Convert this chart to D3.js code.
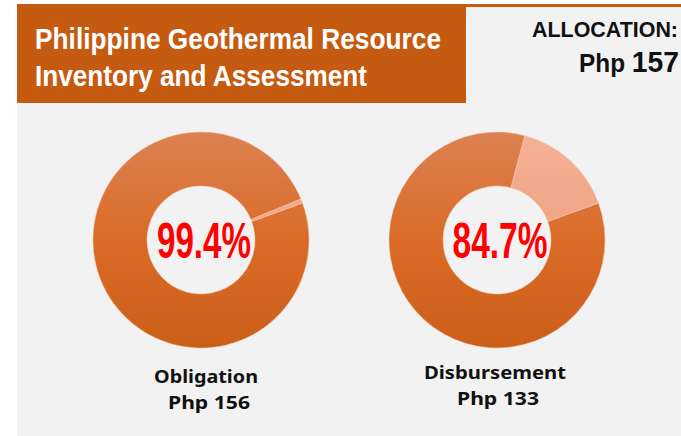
<!DOCTYPE html>
<html>
<head>
<meta charset="utf-8">
<script src="https://cdn.jsdelivr.net/npm/d3@7"></script>
<style>
  body { margin: 0; background: #ffffff; }
  svg { display: block; }
</style>
</head>
<body>
<div id="chart"></div>
<script>
// values
const allocation = 157;
const categories = ["Obligation", "Disbursement"];
const amounts = [156, 133];
const percentLabels = ["99.4%", "84.7%"];
const titleLines = ["Philippine Geothermal Resource", "Inventory and Assessment"];

const svgWidth = 681, svgHeight = 436;
const narrow = "'Liberation Sans', Arial, sans-serif";

const svg = d3.select("#chart")
  .append("svg")
  .attr("width", svgWidth)
  .attr("height", svgHeight);

const defs = svg.append("defs");

// gray panel + header
svg.append("rect")
  .attr("x", 17).attr("y", 4)
  .attr("width", svgWidth - 17).attr("height", svgHeight - 4)
  .attr("fill", "#f2f2f2");

svg.append("rect")
  .attr("x", 17).attr("y", 4)
  .attr("width", svgWidth - 17).attr("height", 3)
  .attr("fill", "#c55a11");

svg.append("rect")
  .attr("x", 17).attr("y", 4)
  .attr("width", 449).attr("height", 99)
  .attr("fill", "#c55a11");

// narrow look: squeeze Liberation Sans bold to the widths in the picture
const titleWidths = [406, 332];
svg.append("g")
  .selectAll("text")
  .data(titleLines)
  .join("text")
  .attr("x", 35)
  .attr("y", (d, i) => 49 + i * 37)
  .attr("fill", "#ffffff")
  .attr("textLength", (d, i) => titleWidths[i])
  .attr("lengthAdjust", "spacingAndGlyphs")
  .style("font-family", narrow)
  .style("font-weight", "bold")
  .style("font-size", "30px")
  .text(d => d);

svg.append("text")
  .attr("x", 532).attr("y", 37)
  .attr("textLength", 146)
  .attr("lengthAdjust", "spacingAndGlyphs")
  .style("font-family", narrow)
  .style("font-weight", "bold")
  .style("font-size", "22px")
  .attr("fill", "#111")
  .text("ALLOCATION:");

const alloc = svg.append("text")
  .attr("x", 579).attr("y", 72)
  .attr("textLength", 100)
  .attr("lengthAdjust", "spacingAndGlyphs")
  .style("font-family", narrow)
  .style("font-weight", "bold")
  .attr("fill", "#111");
alloc.append("tspan").style("font-size", "25px").text("Php ");
alloc.append("tspan").style("font-size", "29px").text(allocation);

// donuts
const centers = d3.scalePoint().domain(categories).range([201, 497]);
const cy = 240, outerR = 108, innerR = 54;

const arc = d3.arc().innerRadius(innerR).outerRadius(outerR);
const pie = d3.pie().sort(null).value(d => d)
  .startAngle(70 * Math.PI / 180)
  .endAngle(70 * Math.PI / 180 + 2 * Math.PI);

function grad(id, top, mid, bottom) {
  const g = defs.append("linearGradient")
    .attr("id", id)
    .attr("gradientUnits", "userSpaceOnUse")
    .attr("x1", 0).attr("y1", -outerR)
    .attr("x2", 0).attr("y2", outerR);
  g.append("stop").attr("offset", "0%").attr("stop-color", top);
  g.append("stop").attr("offset", "50%").attr("stop-color", mid);
  g.append("stop").attr("offset", "100%").attr("stop-color", bottom);
}
grad("gMain", "#dc8152", "#da6b27", "#cb5f18");
grad("gRest", "#f5b195", "#f0a384", "#e68f6c");
const fills = ["url(#gMain)", "url(#gRest)"];

const pctWidths = [94, 95];
categories.forEach((cat, i) => {
  const cx = centers(cat);
  const g = svg.append("g").attr("transform", `translate(${cx},${cy})`);
  g.selectAll("path")
    .data(pie([amounts[i], allocation - amounts[i]]))
    .join("path")
    .attr("d", d => arc(d))
    .attr("fill", (d, j) => fills[j])
    .attr("stroke", "#f3c7b0")
    .attr("stroke-width", 0.5);

  g.append("text")
    .attr("x", 3 - pctWidths[i] / 2).attr("y", 18)
    .attr("textLength", pctWidths[i])
    .attr("lengthAdjust", "spacingAndGlyphs")
    .attr("fill", "#ff0000")
    .style("font-family", narrow)
    .style("font-weight", "bold")
    .style("font-size", "50px")
    .text(percentLabels[i]);
});

// labels under donuts
const nameX = [154, 424], nameW = [104, 142], nameY = [383, 379];
const amtX = [168, 457], amtW = [82, 82];
categories.forEach((cat, i) => {
  const g = svg.append("g")
    .attr("fill", "#111")
    .style("font-family", "'Noto Sans', sans-serif")
    .style("font-weight", "bold")
    .style("font-size", "18.5px");
  g.append("text")
    .attr("x", nameX[i]).attr("y", nameY[i])
    .attr("textLength", nameW[i]).attr("lengthAdjust", "spacingAndGlyphs")
    .text(cat);
  g.append("text")
    .attr("x", amtX[i]).attr("y", nameY[i] + 26)
    .attr("textLength", amtW[i]).attr("lengthAdjust", "spacingAndGlyphs")
    .text("Php " + amounts[i]);
});
</script>
</body>
</html>
